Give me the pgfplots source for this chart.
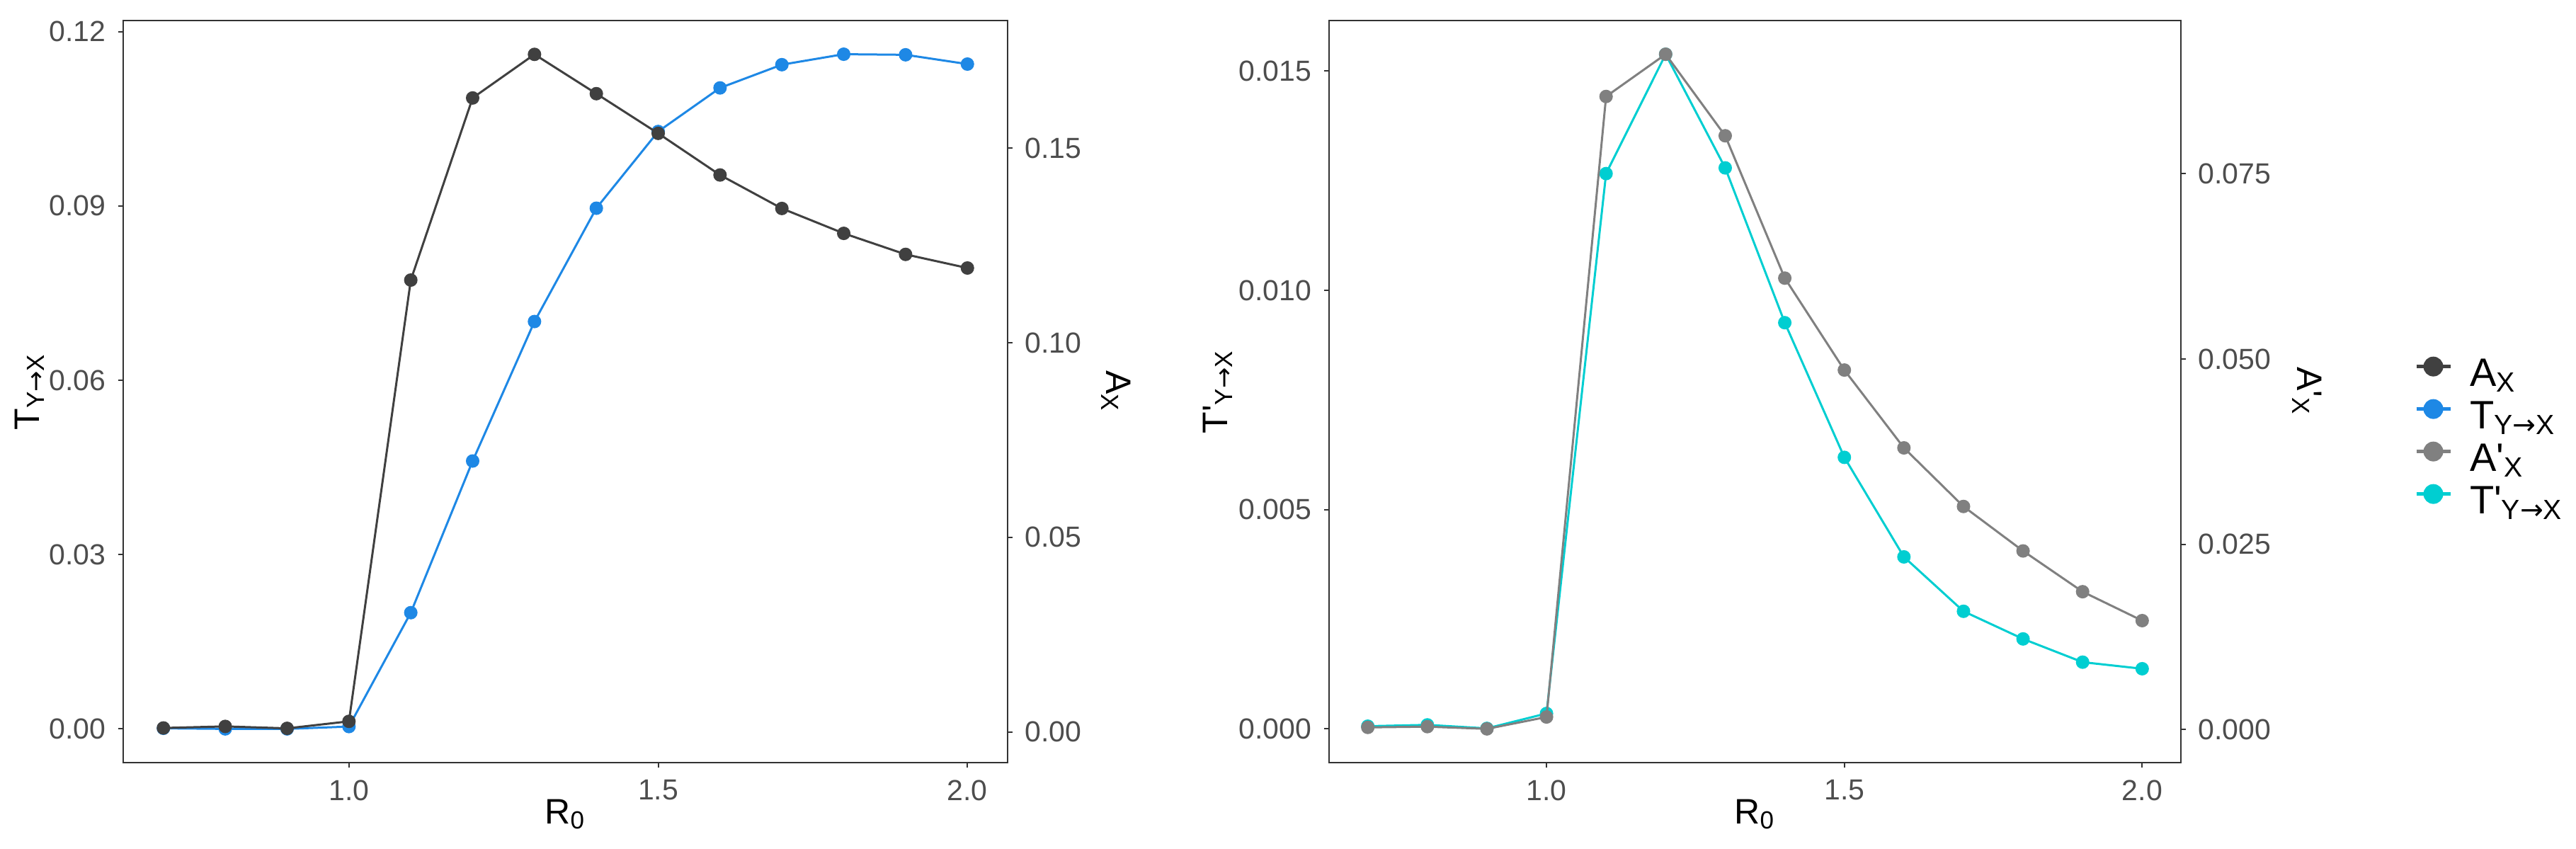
\documentclass[border=0pt]{standalone}
\usepackage{fontspec}
\setmainfont{Liberation Sans}
\newfontfamily\straight{Liberation Sans}
\newfontfamily\dejavu{DejaVu Sans}
\usepackage{pgfplots}
\pgfplotsset{compat=1.18}
\newcommand{\pr}{{\straight'}}
\newcommand{\arr}{{\dejavu →}}
\definecolor{cA}{HTML}{404040}
\definecolor{cT}{HTML}{1E88E5}
\definecolor{cAp}{HTML}{808080}
\definecolor{cTp}{HTML}{00CED1}
\definecolor{tickgrey}{HTML}{4D4D4D}
\definecolor{axisgrey}{HTML}{333333}

\pgfplotstableread{
x T A
0.7 0.0001 0.0010
0.8 0.0000 0.0014
0.9 0.0000 0.0009
1.0 0.0004 0.0027
1.1 0.0200 0.1161
1.2 0.0461 0.1629
1.3 0.0701 0.1741
1.4 0.0896 0.1640
1.5 0.1028 0.1538
1.6 0.1103 0.1431
1.7 0.1143 0.1345
1.8 0.1161 0.1281
1.9 0.1160 0.1227
2.0 0.1144 0.1192
}\leftdata

\pgfplotstableread{
x Tp Ap
0.7 0.00006 0.0003
0.8 0.00009 0.0004
0.9 0.00001 0.0001
1.0 0.00035 0.0017
1.1 0.01266 0.0854
1.2 0.01538 0.0911
1.3 0.01279 0.0801
1.4 0.00926 0.0609
1.5 0.00619 0.0485
1.6 0.00392 0.0380
1.7 0.00268 0.0301
1.8 0.00205 0.0241
1.9 0.00152 0.0186
2.0 0.00137 0.0147
}\rightdata

\pgfplotsset{
  panel/.style={
    scale only axis, height=209.6pt,
    xmin=0.635, xmax=2.065,
    axis line style={axisgrey, line width=0.4pt},
    every tick/.style={axisgrey, line width=0.4pt},
    tick align=outside, major tick length=1.4pt,
    scaled ticks=false,
    /pgf/number format/assume math mode=true,
    ticklabel style={font=\fontsize{8.2}{9}\selectfont, text=tickgrey},
    label style={font=\fontsize{10}{12}\selectfont, text=black},
    every axis plot/.append style={line width=0.6pt, mark=*, mark size=1.6pt, mark options={solid}},
  },
  leftaxis/.style={
    panel, xtick={1,1.5,2}, xtick pos=bottom, ytick pos=left,
    xticklabel style={/pgf/number format/.cd, fixed, fixed zerofill, precision=1},
    xlabel={R\textsubscript{0}},
    every axis x label/.style={at={([yshift=-14.6pt]rel axis cs:0.5,0)}, anchor=center},
  },
  rightaxis/.style={
    panel, axis x line=none, axis y line*=right,
    tick align=outside,
  },
}

\begin{document}
\begin{tikzpicture}
\useasboundingbox (0,0) rectangle (727.6pt,239.8pt);

% ---------- left panel ----------
\begin{axis}[leftaxis, width=249.8pt, at={(34.8pt,24.4pt)}, anchor=south west,
  ymin=-0.0058, ymax=0.1219, ytick={0,0.03,0.06,0.09,0.12},
  yticklabel style={/pgf/number format/.cd, fixed, fixed zerofill, precision=2},
  ylabel={T\textsubscript{Y\arr X}},
  every axis y label/.style={at={([xshift=-26.4pt]rel axis cs:0,0.5)}, anchor=center, rotate=90},
]
\addplot[color=cT] table[x=x, y=T] {\leftdata};
\end{axis}
\begin{axis}[rightaxis, width=249.8pt, at={(34.8pt,24.4pt)}, anchor=south west,
  ymin=-0.0079, ymax=0.1828, ytick={0,0.05,0.1,0.15},
  yticklabel style={/pgf/number format/.cd, fixed, fixed zerofill, precision=2},
  ylabel={A\textsubscript{X}},
  every axis y label/.style={at={([xshift=30.6pt]rel axis cs:1,0.5)}, anchor=center, rotate=-90},
]
\addplot[color=cA] table[x=x, y=A] {\leftdata};
\end{axis}

% ---------- right panel ----------
\begin{axis}[leftaxis, width=240.6pt, at={(375.4pt,24.4pt)}, anchor=south west,
  ymin=-0.00077, ymax=0.01615, ytick={0,0.005,0.01,0.015},
  yticklabel style={/pgf/number format/.cd, fixed, fixed zerofill, precision=3},
  ylabel={T\pr\textsubscript{Y\arr X}},
  every axis y label/.style={at={([xshift=-31.4pt]rel axis cs:0,0.5)}, anchor=center, rotate=90},
]
\addplot[color=cTp] table[x=x, y=Tp] {\rightdata};
\end{axis}
\begin{axis}[rightaxis, width=240.6pt, at={(375.4pt,24.4pt)}, anchor=south west,
  ymin=-0.00445, ymax=0.09565, ytick={0,0.025,0.05,0.075},
  yticklabel style={/pgf/number format/.cd, fixed, fixed zerofill, precision=3},
  ylabel={A\pr\textsubscript{X}},
  every axis y label/.style={at={([xshift=35.6pt]rel axis cs:1,0.5)}, anchor=center, rotate=-90},
  legend cell align=left,
  legend image code/.code={
    \draw[#1, mark=none, line width=1pt] (0pt,3pt) -- (9.6pt,3pt);
    \fill[#1, draw=none] (4.8pt,3pt) circle (2.8pt);
  },
  legend style={draw=none, fill=none, at={(rel axis cs:1.2743,0.548)}, anchor=north west,
    inner sep=0pt, outer sep=0pt, row sep=0pt, column sep=5pt,
    font=\fontsize{11.2}{13}\selectfont,
    nodes={inner sep=0pt, text height=8.6pt, text depth=3.4pt}},
]
\addplot[color=cAp, forget plot] table[x=x, y=Ap] {\rightdata};
\addlegendimage{color=cA}
\addlegendentry{A\textsubscript{X}}
\addlegendimage{color=cT}
\addlegendentry{T\textsubscript{Y\arr X}}
\addlegendimage{color=cAp}
\addlegendentry{A\pr\textsubscript{X}}
\addlegendimage{color=cTp}
\addlegendentry{T\pr\textsubscript{Y\arr X}}
\end{axis}
\end{tikzpicture}
\end{document}
